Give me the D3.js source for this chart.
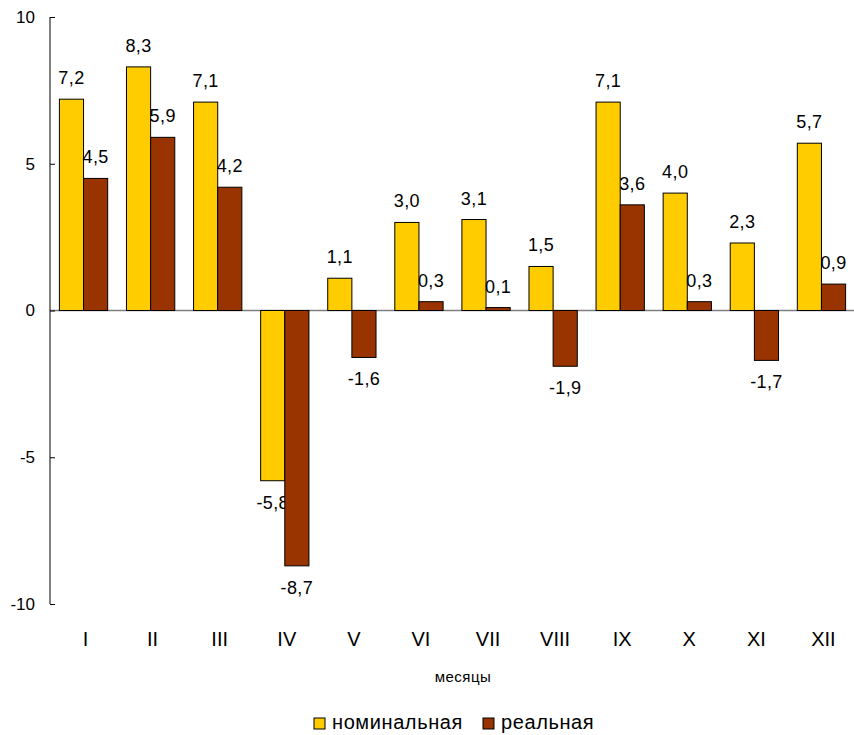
<!DOCTYPE html>
<html>
<head>
<meta charset="utf-8">
<script src="https://cdn.jsdelivr.net/npm/d3@7"></script>
<style>
  body { margin: 0; background: #fff; }
  text { font-family: "Liberation Sans", Arial, sans-serif; fill: #000; }
</style>
</head>
<body>
<svg id="chart" width="854" height="735"></svg>
<script>
// months and the two series
var months = ["I", "II", "III", "IV", "V", "VI", "VII", "VIII", "IX", "X", "XI", "XII"];
var nominal = [7.2, 8.3, 7.1, -5.8, 1.1, 3.0, 3.1, 1.5, 7.1, 4.0, 2.3, 5.7];
var real = [4.5, 5.9, 4.2, -8.7, -1.6, 0.3, 0.1, -1.9, 3.6, 0.3, -1.7, 0.9];
var seriesNames = ["номинальная", "реальная"];
var colors = ["#FFCC00", "#993300"];
var yTicks = [-10, -5, 0, 5, 10];

var svg = d3.select("#chart");

var x = d3.scaleBand().domain(months).range([50, 855]).paddingInner(0.28).paddingOuter(0.14);
var xs = d3.scaleBand().domain([0, 1]).range([0, x.bandwidth()]);
var y = d3.scaleLinear().domain([-10, 10]).range([604, 17]);

function fmt(v) { return d3.format(".1f")(v).replace(".", ",").replace("\u2212", "-"); }

// zero line
svg.append("line")
    .attr("x1", 50).attr("x2", 854)
    .attr("y1", y(0)).attr("y2", y(0))
    .attr("stroke", "#808080").attr("stroke-width", 1.5);

var rows = months.map(function (m, i) { return {m: m, v: [nominal[i], real[i]]}; });

var groups = svg.selectAll("g.month")
    .data(rows)
    .enter().append("g")
    .attr("transform", function (d) { return "translate(" + x(d.m) + ",0)"; });

var bars = groups.selectAll("g.bar")
    .data(function (d) { return d.v.map(function (v, k) { return {v: v, k: k}; }); })
    .enter().append("g");

bars.append("rect")
    .attr("x", function (d) { return xs(d.k); })
    .attr("width", xs.bandwidth())
    .attr("y", function (d) { return y(Math.max(0, d.v)); })
    .attr("height", function (d) { return Math.abs(y(d.v) - y(0)); })
    .attr("fill", function (d) { return colors[d.k]; })
    .attr("stroke", "#000").attr("stroke-width", 1);

bars.append("text")
    .attr("x", function (d) { return xs(d.k) + xs.bandwidth() / 2; })
    .attr("y", function (d) { return d.v >= 0 ? y(d.v) - 15 : y(d.v) + 28; })
    .attr("text-anchor", "middle")
    .style("font-size", "18px")
    .style("letter-spacing", "0.4px")
    .text(function (d) { return fmt(d.v); });

// y axis
var yAxis = d3.axisLeft(y).tickValues(yTicks).tickSize(-5).tickPadding(15)
    .tickFormat(function (d) { return String(d); });
var ya = svg.append("g").attr("transform", "translate(50,0)").call(yAxis);
ya.select(".domain").attr("stroke", "#000").attr("d", "M0," + y(10) + "V" + y(-10));
ya.selectAll(".tick line").attr("stroke", "#000");
ya.selectAll(".tick text").style("font-size", "17px").attr("fill", "#000")
    .attr("font-family", "Liberation Sans, Arial, sans-serif");

// month labels
svg.selectAll("text.month")
    .data(months)
    .enter().append("text")
    .attr("x", function (d) { return x(d) + x.bandwidth() / 2 + 2; })
    .attr("y", 646)
    .attr("text-anchor", "middle")
    .style("font-size", "20px")
    .text(function (d) { return d; });

svg.append("text")
    .attr("x", 463).attr("y", 682)
    .attr("text-anchor", "middle")
    .style("font-size", "15px")
    .style("letter-spacing", "0.5px")
    .text("месяцы");

// legend
var legendX = [314, 483];
var lg = svg.selectAll("g.legend")
    .data(seriesNames)
    .enter().append("g")
    .attr("transform", function (d, i) { return "translate(" + legendX[i] + ",718)"; });
lg.append("rect")
    .attr("width", 11).attr("height", 11)
    .attr("fill", function (d, i) { return colors[i]; })
    .attr("stroke", "#000");
lg.append("text")
    .attr("x", 18).attr("y", 11)
    .style("font-size", "20px")
    .style("letter-spacing", "0.6px")
    .text(function (d) { return d; });
</script>
</body>
</html>
